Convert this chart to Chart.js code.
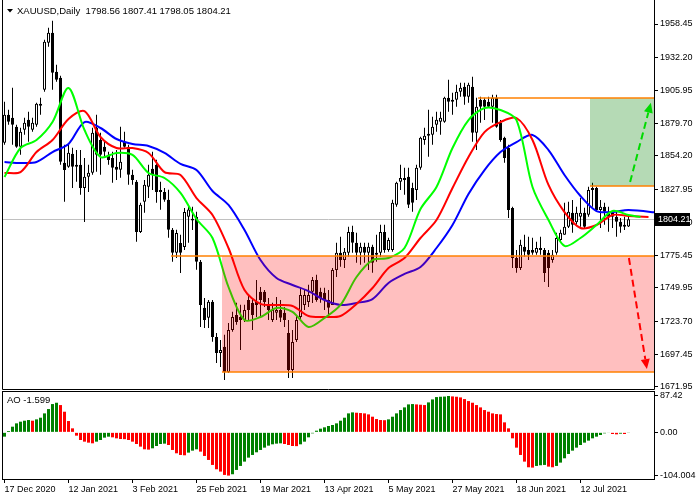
<!DOCTYPE html>
<html><head><meta charset="utf-8">
<script src="https://cdn.jsdelivr.net/npm/chart.js@4.4.0/dist/chart.umd.min.js"></script>
<style>
html,body{margin:0;padding:0;background:#fff;width:700px;height:500px;overflow:hidden}
canvas{position:absolute;left:0}
#main{top:0}
#sub{top:390px}
</style></head><body>
<canvas id="main" width="700" height="395"></canvas>
<canvas id="sub" width="700" height="110"></canvas>
<script>
// ---------- DATA ----------
const symbolName = "XAUUSD,Daily";
const dateLabels = ["17 Dec 2020","12 Jan 2021","3 Feb 2021","25 Feb 2021","19 Mar 2021","13 Apr 2021","5 May 2021","27 May 2021","18 Jun 2021","12 Jul 2021"];
const dateTickIdx = [0,16,32,48,64,80,96,112,128,144];
const priceTicks = [1958.45,1932.20,1905.95,1879.70,1854.20,1827.95,1801.70,1775.45,1749.95,1723.70,1697.45,1671.95];
const aoTicks = [87.42,0,-104.004];
const aoTickLabels = ["87.42","0.00","-104.004"];

const open = [1864.6,1886.8,1884.4,1877.3,1861.5,1874.9,1882.8,1874.9,1878.8,1895.4,
1906.5,1943.6,1951.5,1920.7,1916.0,1848.8,1845.6,1855.9,1847.2,1847.2,
1829.0,1837.7,1840.9,1876.5,1866.9,1861.5,1855.1,1852.7,1845.6,1843.3,
1865.4,1861.5,1839.3,1833.8,1794.2,1818.0,1829.8,1844.1,1847.2,1827.4,
1825.8,1819.6,1795.9,1777.7,1785.5,1782.3,1806.1,1803.3,1806.1,1770.6,
1734.3,1726.4,1739.0,1711.3,1698.5,1703.5,1683.6,1716.7,1728.6,1727.0,
1724.6,1740.4,1738.1,1738.9,1746.9,1746.9,1736.5,1724.6,1730.3,1732.5,
1730.3,1714.4,1685.1,1708.8,1727.0,1736.5,1738.9,1746.9,1756.3,1746.9,
1746.1,1740.4,1736.5,1764.2,1777.7,1772.1,1777.7,1794.2,1785.6,1777.7,
1782.4,1777.7,1782.4,1776.1,1777.7,1794.2,1780.0,1780.0,1815.6,1833.8,
1836.9,1837.7,1829.0,1827.4,1844.9,1866.9,1870.1,1870.9,1878.8,1881.2,
1881.2,1900.2,1897.0,1898.6,1904.9,1908.8,1900.9,1908.8,1872.5,1898.6,
1898.6,1897.0,1893.1,1900.2,1880.4,1868.5,1860.6,1813.2,1773.7,1765.8,
1782.4,1780.0,1780.0,1777.7,1780.0,1780.0,1777.7,1772.1,1777.7,1787.9,
1791.9,1798.2,1809.3,1801.8,1806.1,1809.3,1807.7,1827.4,1829.0,1811.6,
1814.0,1810.1,1809.3,1806.1,1802.2,1798.2,1798.56];
const high = [1897.0,1890.7,1908.1,1878.8,1876.5,1884.4,1889.1,1884.4,1896.2,1900.2,
1946.0,1955.5,1961.0,1926.2,1917.5,1863.0,1863.0,1860.7,1859.0,1859.0,
1852.7,1847.2,1876.5,1886.8,1872.5,1865.4,1857.5,1857.5,1859.0,1877.3,
1873.3,1863.0,1843.3,1835.3,1817.2,1835.3,1847.2,1857.5,1851.2,1833.8,
1829.0,1827.5,1797.4,1795.9,1791.9,1813.2,1815.6,1814.0,1810.1,1772.1,
1742.1,1740.4,1740.4,1714.4,1708.8,1712.9,1722.3,1731.1,1738.2,1736.6,
1736.6,1744.4,1742.0,1756.3,1750.8,1748.4,1742.0,1738.2,1742.9,1740.4,
1735.0,1724.6,1716.7,1728.6,1750.8,1748.4,1752.4,1758.7,1760.3,1750.1,
1750.1,1748.4,1765.8,1785.6,1790.4,1781.6,1798.2,1799.0,1793.5,1785.6,
1785.6,1785.6,1784.0,1791.9,1799.8,1799.8,1789.6,1819.6,1833.8,1847.2,
1844.9,1844.9,1833.0,1847.2,1869.3,1876.5,1890.7,1885.2,1889.1,1889.1,
1901.0,1914.4,1904.1,1910.4,1912.0,1912.0,1912.0,1916.7,1900.2,1901.0,
1900.2,1901.0,1902.5,1902.5,1882.7,1869.3,1863.0,1814.0,1780.0,1788.0,
1791.9,1790.4,1789.6,1786.4,1790.4,1781.6,1780.0,1780.0,1793.5,1795.9,
1817.2,1818.0,1819.5,1814.0,1821.1,1813.3,1829.8,1833.0,1829.8,1819.5,
1817.2,1814.0,1810.1,1810.1,1805.3,1806.1,1807.41];
const low = [1863.0,1878.8,1863.0,1860.7,1855.1,1870.9,1865.4,1873.3,1877.3,1886.8,
1904.9,1940.5,1906.5,1912.8,1847.2,1818.0,1844.9,1829.0,1833.8,1823.5,
1802.1,1825.8,1839.3,1841.7,1839.3,1852.7,1847.2,1833.0,1835.3,1837.0,
1860.7,1831.4,1831.4,1786.4,1793.4,1809.3,1821.1,1827.4,1817.2,1811.7,
1818.0,1789.6,1770.6,1773.7,1761.8,1780.0,1785.6,1795.8,1764.3,1719.1,
1718.4,1718.4,1707.4,1690.6,1687.5,1677.3,1682.8,1715.3,1720.8,1700.9,
1723.1,1724.6,1716.7,1727.0,1727.0,1735.0,1724.6,1723.1,1724.6,1723.1,
1719.1,1678.8,1678.8,1707.3,1724.6,1732.5,1735.0,1738.1,1739.0,1738.2,
1732.5,1728.6,1736.5,1758.7,1766.6,1765.8,1774.6,1777.7,1769.8,1768.2,
1769.8,1764.2,1761.9,1770.6,1774.6,1777.7,1778.5,1778.5,1814.0,1827.4,
1823.5,1813.2,1810.1,1819.5,1843.3,1863.0,1853.5,1863.0,1873.3,1870.9,
1880.4,1889.1,1886.8,1893.1,1900.9,1894.6,1896.2,1865.4,1859.0,1880.4,
1882.7,1892.3,1880.4,1876.5,1865.4,1848.8,1805.3,1765.8,1761.9,1764.2,
1774.6,1772.1,1776.1,1776.1,1776.1,1754.7,1750.8,1769.8,1776.1,1786.4,
1791.9,1797.4,1793.5,1799.8,1798.2,1797.4,1806.1,1814.0,1810.1,1797.4,
1799.8,1794.3,1797.4,1790.4,1793.5,1795.8,1798.05];
const close = [1886.8,1881.2,1878.8,1861.5,1873.3,1880.4,1877.3,1880.4,1895.4,1893.9,
1944.4,1951.5,1919.9,1914.4,1849.6,1843.2,1856.7,1845.6,1845.6,1829.0,
1837.7,1840.9,1872.5,1855.1,1855.1,1857.5,1851.1,1844.9,1843.3,1849.6,
1861.5,1839.3,1835.3,1794.2,1815.6,1831.4,1839.3,1839.3,1825.8,1825.8,
1819.6,1795.9,1777.7,1793.4,1777.7,1810.0,1812.0,1804.6,1770.6,1736.5,
1724.6,1739.0,1711.3,1698.5,1700.9,1683.6,1716.7,1727.0,1723.1,1724.6,
1732.5,1732.5,1728.6,1736.5,1740.4,1738.9,1732.5,1732.5,1732.5,1726.4,
1724.6,1685.1,1707.3,1724.6,1744.4,1744.4,1744.4,1756.3,1740.4,1742.1,
1740.4,1734.3,1764.2,1777.7,1772.1,1778.5,1794.2,1785.6,1777.7,1782.4,
1777.7,1782.4,1769.8,1777.7,1794.2,1780.0,1787.9,1817.2,1833.0,1836.9,
1835.3,1815.6,1817.2,1844.9,1868.5,1870.1,1871.7,1877.3,1882.8,1884.4,
1900.2,1897.0,1898.6,1904.9,1908.1,1900.9,1910.4,1872.5,1893.1,1893.1,
1893.1,1893.1,1900.2,1877.3,1866.9,1852.7,1811.6,1773.7,1765.8,1784.0,
1778.5,1776.1,1777.7,1781.6,1781.6,1761.8,1765.8,1776.1,1789.5,1793.5,
1798.2,1810.1,1799.8,1809.3,1809.3,1798.2,1827.4,1829.0,1811.6,1814.0,
1810.1,1806.1,1806.1,1802.2,1798.2,1799.8,1804.21];

// Alligator lines, read every 4 bars (plus their shifted end point)
const maIdx = [0,4,8,12,16,20,24,28,32,36,40,44,48,52,56,60,64,68,72,76,80,84,88,92,96,100,104,108,112,116,120,124,128,132,136,140,144,148,152,156];
const jawEndIdx = 164, teethEndIdx = 161, lipsEndIdx = 159;
const jaw = [1849.4,1848.7,1849.4,1857.3,1863.7,1881.0,1876.3,1867.6,1863.7,1862.1,
1856.6,1847.9,1843.1,1826.5,1815.5,1795.7,1772.0,1757.8,1752.3,1747.5,
1740.4,1736.5,1738.1,1741.2,1753.9,1761.0,1766.5,1781.5,1799.7,1824.2,
1843.1,1857.3,1865.2,1870.8,1858.9,1839.2,1822.6,1810.7,1809.9,1811.5,1809.2];
const teeth = [1840.8,1841.5,1857.3,1866.8,1883.4,1889.7,1869.2,1860.5,1860.5,1856.6,
1841.5,1839.2,1821.0,1807.6,1781.5,1748.3,1737.3,1736.5,1735.7,1727.8,
1727.0,1727.8,1737.3,1749.9,1765.7,1773.6,1789.4,1803.6,1828.9,1853.4,
1873.1,1881.0,1884.2,1866.8,1831.3,1809.9,1797.3,1799.7,1807.6,1806.8,1806.0];
const lips = [1837.6,1860.5,1866.8,1881.0,1907.9,1874.7,1853.4,1856.6,1855.0,1840.8,
1836.8,1825.0,1804.4,1789.4,1750.7,1724.6,1727.0,1734.1,1731.0,1719.1,
1726.2,1736.5,1758.6,1772.0,1773.6,1781.5,1812.3,1829.7,1860.5,1882.6,
1892.1,1890.5,1882.6,1829.7,1803.6,1783.1,1789.4,1799.7,1810.7,1807.6,1806.0];

// Awesome Oscillator
const ao = [-10.4,3.2,13.6,21.6,25.6,28.0,29.6,28.0,31.2,35.2,
45.6,56.0,68.0,71.2,65.6,49.6,27.2,9.6,-8.0,-18.4,
-22.4,-24.8,-26.4,-22.4,-18.4,-12.8,-10.4,-12.0,-14.4,-16.0,
-16.4,-18.4,-22.4,-28.0,-34.4,-40.8,-41.6,-38.4,-32.8,-28.0,
-27.2,-30.4,-42.4,-50.4,-54.4,-55.2,-48.8,-44.0,-40.8,-46.4,
-56.8,-66.4,-78.4,-88.8,-94.4,-102.4,-104.004,-100.8,-90.4,-80.8,
-70.4,-60.8,-54.4,-48.0,-42.4,-36.8,-32.0,-28.8,-27.2,-26.4,
-28.0,-30.4,-32.8,-33.2,-28.8,-22.4,-12.0,-2.4,4.0,8.8,
12.0,15.2,17.6,21.6,28.0,35.2,45.6,48.0,47.2,46.4,
45.6,43.2,37.6,32.0,29.6,29.2,31.2,37.6,45.6,53.6,
60.0,67.2,68.0,67.2,66.4,65.6,72.0,79.2,84.8,85.6,
86.0,87.42,86.4,85.6,84.0,80.0,75.2,71.2,65.6,60.0,
53.6,49.6,45.6,44.0,43.2,24.0,9.6,-14.4,-36.8,-54.4,
-70.4,-84.0,-84.8,-80.8,-79.2,-78.4,-82.4,-84.0,-80.8,-72.8,
-62.4,-52.0,-44.0,-36.8,-30.4,-24.8,-20.0,-14.4,-10.4,-6.4,
-2.4,-1.0,-4.0,-4.8,-3.2,-4.0,-1.599];

// Drawn objects (bar index / price)
const zoneFrom = [54.4, 146.4];
const zoneTop = [1775.45, 1900.0];
const zoneBottom = [1683.6, 1830.5];
const levelFrom = [41.6, 54.4, 118.4, 146.4];
const levelPrice = [1775.45, 1683.6, 1900.0, 1830.5];
const arrowStart = [[156.4, 1833.7], [156.1, 1773.6]];
const arrowEnd = [[161.6, 1896.2], [160.6, 1685.9]];

// ---------- STYLE / SETUP ----------
const FONT = "'Liberation Sans', Arial, sans-serif";
const X_MIN = -0.375, X_MAX = 162.375;
const zoneColors = ['rgba(255,0,0,0.25)', 'rgba(0,128,0,0.29)'];
const arrowColors = ['#00ff00', '#ff0000'];
const last = close.length - 1;

function pts(idx, vals, endIdx) {
  const xs = idx.concat([endIdx]);
  return vals.map((v, k) => ({x: xs[k], y: v}));
}

function drawArrow(ctx, x0, y0, x1, y1, color) {
  const ang = Math.atan2(y1 - y0, x1 - x0), head = 10, hw = 4.5;
  const bx = x1 - head * Math.cos(ang), by = y1 - head * Math.sin(ang);
  ctx.save();
  ctx.strokeStyle = color; ctx.lineWidth = 2; ctx.setLineDash([7, 4]);
  ctx.beginPath(); ctx.moveTo(x0, y0); ctx.lineTo(bx, by); ctx.stroke();
  ctx.setLineDash([]);
  ctx.fillStyle = color;
  ctx.beginPath(); ctx.moveTo(x1, y1);
  ctx.lineTo(bx + hw * Math.sin(ang), by - hw * Math.cos(ang));
  ctx.lineTo(bx - hw * Math.sin(ang), by + hw * Math.cos(ang));
  ctx.closePath(); ctx.fill();
  ctx.restore();
}

const mainDecor = {
  id: 'mainDecor',
  beforeDatasetsDraw(chart) {
    const {ctx, chartArea: a, scales: {y}} = chart;
    const py = Math.round(y.getPixelForValue(close[last])) + 0.5;
    ctx.save(); ctx.strokeStyle = '#c0c0c0'; ctx.lineWidth = 1;
    ctx.beginPath(); ctx.moveTo(a.left, py); ctx.lineTo(a.right, py); ctx.stroke(); ctx.restore();
  },
  afterDatasetsDraw(chart) {
    const {ctx, chartArea: a, scales: {x, y}} = chart;
    ctx.save();
    ctx.beginPath(); ctx.rect(a.left, a.top, a.right - a.left, a.bottom - a.top); ctx.clip();
    arrowStart.forEach((s, k) => {
      drawArrow(ctx, x.getPixelForValue(s[0]), y.getPixelForValue(s[1]),
        x.getPixelForValue(arrowEnd[k][0]), y.getPixelForValue(arrowEnd[k][1]), arrowColors[k]);
    });
    zoneFrom.forEach((f, k) => {
      const x0 = Math.round(x.getPixelForValue(f));
      const y0 = Math.round(y.getPixelForValue(zoneTop[k]));
      const y1 = Math.round(y.getPixelForValue(zoneBottom[k]));
      ctx.fillStyle = zoneColors[k];
      ctx.fillRect(x0, y0, a.right - x0, y1 - y0);
    });
    ctx.strokeStyle = '#ff8000'; ctx.lineWidth = 1.5;
    levelFrom.forEach((f, k) => {
      const x0 = Math.round(x.getPixelForValue(f));
      const py = Math.round(y.getPixelForValue(levelPrice[k]));
      ctx.beginPath(); ctx.moveTo(x0, py); ctx.lineTo(a.right, py); ctx.stroke();
    });
    ctx.restore();
  },
  afterDraw(chart) {
    const {ctx, chartArea: a, scales: {y}} = chart;
    ctx.save();
    ctx.strokeStyle = '#000'; ctx.lineWidth = 1;
    ctx.beginPath();
    ctx.moveTo(a.left - 0.5, 0); ctx.lineTo(a.left - 0.5, a.bottom + 0.5);
    ctx.lineTo(a.right + 0.5, a.bottom + 0.5); ctx.lineTo(a.right + 0.5, 0);
    ctx.stroke();
    // current price box
    const py = Math.round(y.getPixelForValue(close[last]));
    ctx.fillStyle = '#000'; ctx.fillRect(a.right + 1, py - 6, 35, 13);
    ctx.fillStyle = '#fff'; ctx.font = '9px ' + FONT; ctx.textBaseline = 'middle'; ctx.textAlign = 'left';
    ctx.fillText(close[last].toFixed(2), a.right + 4, py + 0.5);
    // header
    ctx.fillStyle = '#000';
    ctx.beginPath(); ctx.moveTo(7, 9); ctx.lineTo(13, 9); ctx.lineTo(10, 12.5); ctx.closePath(); ctx.fill();
    ctx.font = '9.5px ' + FONT; ctx.textBaseline = 'middle';
    ctx.fillText(symbolName + '  ' + [open[last], high[last], low[last], close[last]].map(v => v.toFixed(2)).join(' '), 17, 11);
    ctx.restore();
  }
};

const subDecor = {
  id: 'subDecor',
  afterDraw(chart) {
    const {ctx, chartArea: a} = chart;
    ctx.save();
    ctx.strokeStyle = '#000'; ctx.lineWidth = 1;
    ctx.strokeRect(a.left - 0.5, a.top - 0.5, a.right - a.left + 1, a.bottom - a.top + 1);
    ctx.fillStyle = '#000'; ctx.font = '9.5px ' + FONT; ctx.textBaseline = 'middle'; ctx.textAlign = 'left';
    ctx.fillText('AO ' + ao[ao.length - 1].toFixed(3), 7, 10.5);
    ctx.restore();
  }
};

const yAxisFit = s => { s.width = 46; s.paddingTop = 0; s.paddingBottom = 0; };

new Chart(document.getElementById('main'), {
  type: 'bar',
  data: {
    datasets: [
      {type: 'line', data: pts(maIdx, lips, lipsEndIdx), borderColor: '#00ff00', borderWidth: 2, pointRadius: 0, tension: 0.3, order: 1},
      {type: 'line', data: pts(maIdx, teeth, teethEndIdx), borderColor: '#ff0000', borderWidth: 2, pointRadius: 0, tension: 0.3, order: 2},
      {type: 'line', data: pts(maIdx, jaw, jawEndIdx), borderColor: '#0000ff', borderWidth: 2, pointRadius: 0, tension: 0.3, order: 3},
      {type: 'bar', data: open.map((o, i) => ({x: i, y: [o, close[i]]})),
        backgroundColor: open.map((o, i) => close[i] >= o ? '#ffffff' : '#000000'),
        borderColor: '#000000', borderWidth: 1, borderSkipped: false, barThickness: 3,
        grouped: false, inflateAmount: 0, order: 4},
      {type: 'bar', data: low.map((l, i) => ({x: i, y: [l, high[i]]})),
        backgroundColor: '#000000', borderWidth: 0, barThickness: 1,
        grouped: false, inflateAmount: 0, order: 5}
    ]
  },
  options: {
    responsive: false, animation: false, devicePixelRatio: 1,
    layout: {padding: {left: 3, top: 2, right: 0, bottom: 6}},
    plugins: {legend: {display: false}, tooltip: {enabled: false}},
    scales: {
      x: {type: 'linear', min: X_MIN, max: X_MAX, display: false, offset: false},
      y: {position: 'right', min: 1670.13, max: 1975.83,
        afterBuildTicks: s => { s.ticks = priceTicks.map(v => ({value: v})); },
        afterFit: yAxisFit,
        ticks: {callback: v => Number(v).toFixed(2), font: {family: FONT, size: 9}, color: '#000', padding: 2, autoSkip: false},
        grid: {drawOnChartArea: false, drawTicks: true, tickLength: 4, color: '#000'},
        border: {display: false}}
    }
  },
  plugins: [mainDecor]
});

new Chart(document.getElementById('sub'), {
  type: 'bar',
  data: {
    datasets: [{
      data: ao.map((v, i) => ({x: i, y: v})),
      backgroundColor: ao.map((v, i) => (i > 0 && v <= ao[i - 1]) ? '#ff0000' : '#008000'),
      borderWidth: 0, barThickness: 3, grouped: false, inflateAmount: 0
    }]
  },
  options: {
    responsive: false, animation: false, devicePixelRatio: 1,
    layout: {padding: {left: 3, top: 2, right: 0, bottom: 0}},
    plugins: {legend: {display: false}, tooltip: {enabled: false}},
    scales: {
      x: {type: 'linear', min: X_MIN, max: X_MAX, offset: false, position: 'bottom',
        afterBuildTicks: s => { s.ticks = dateTickIdx.map(v => ({value: v})); },
        afterFit: s => { s.height = 21; s.paddingLeft = 0; s.paddingRight = 0; },
        ticks: {callback: (v, i) => dateLabels[i], align: 'start', font: {family: FONT, size: 9}, color: '#000', padding: 1, maxRotation: 0, autoSkip: false},
        grid: {drawOnChartArea: false, offset: false, tickLength: 4, color: '#000'},
        border: {display: false}},
      y: {position: 'right', min: -112.2, max: 97.0,
        afterBuildTicks: s => { s.ticks = aoTicks.map(v => ({value: v})); },
        afterFit: yAxisFit,
        ticks: {callback: (v, i) => aoTickLabels[i], font: {family: FONT, size: 9}, color: '#000', padding: 2, autoSkip: false},
        grid: {drawOnChartArea: false, drawTicks: true, tickLength: 4, color: '#000'},
        border: {display: false}}
    }
  },
  plugins: [subDecor]
});
</script>
</body></html>
